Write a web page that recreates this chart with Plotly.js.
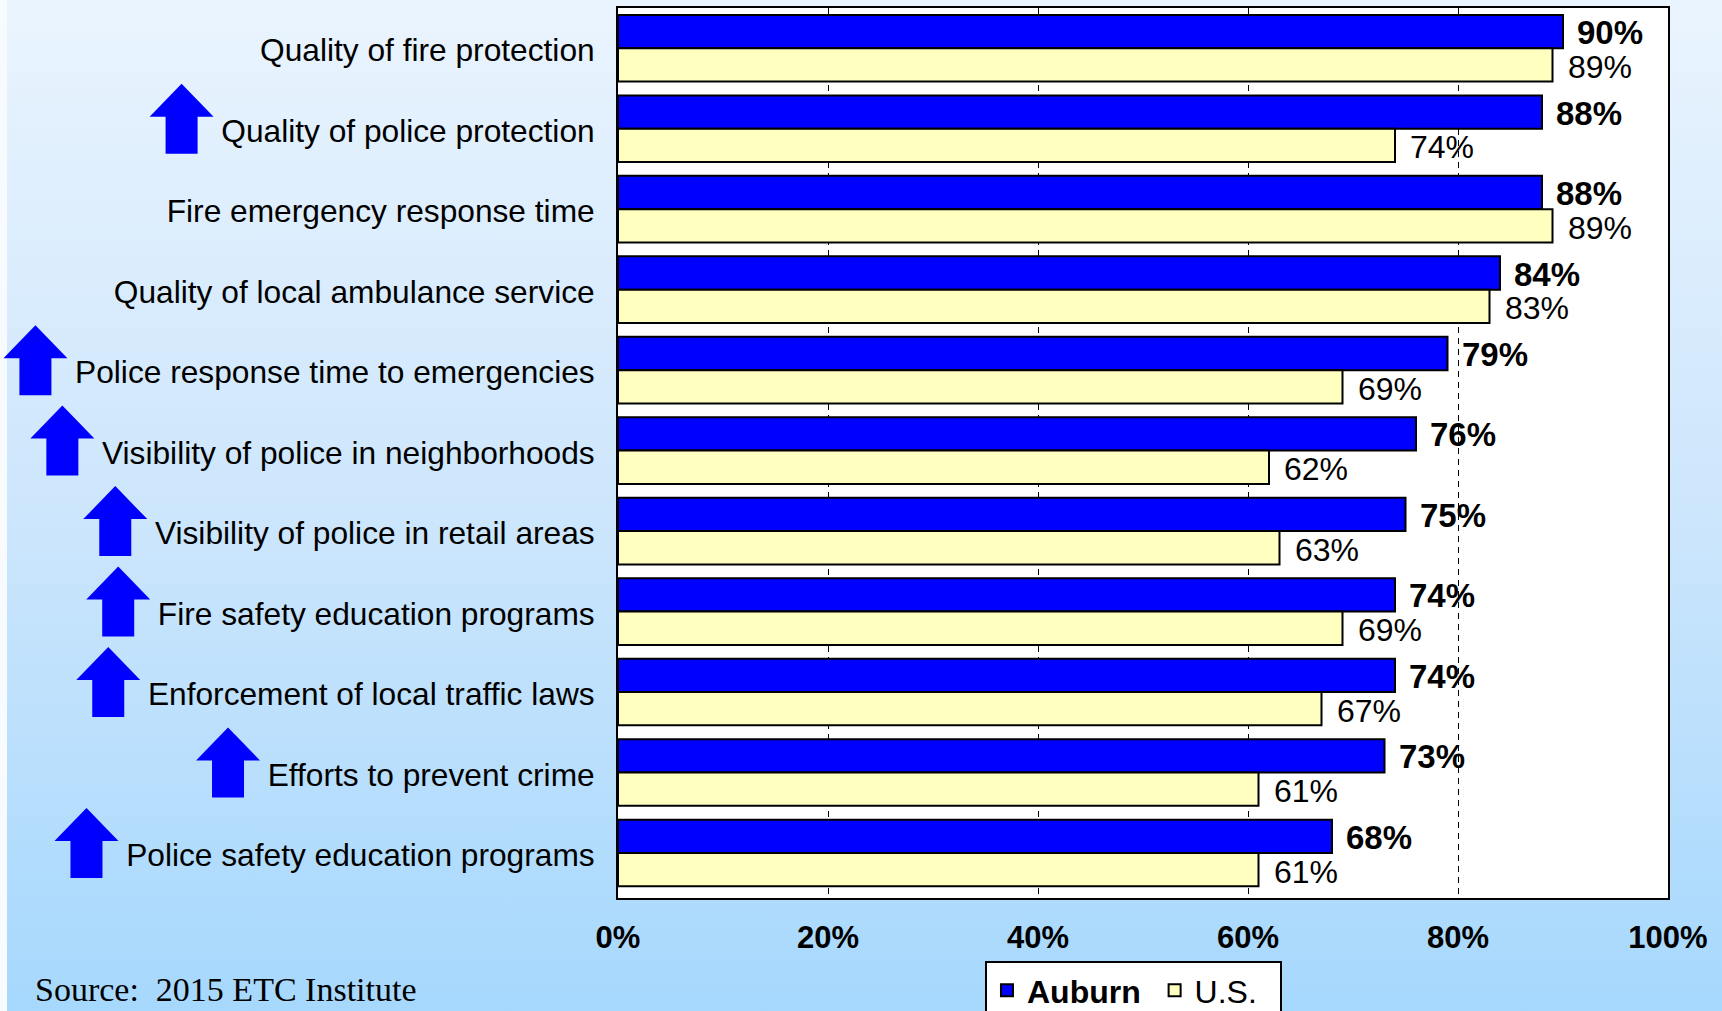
<!DOCTYPE html>
<html><head><meta charset="utf-8">
<script src="https://cdn.plot.ly/plotly-3.0.1.min.js"></script>
<style>
html,body{margin:0;padding:0;width:1722px;height:1011px;overflow:hidden;}
body{background:
  linear-gradient(to right,#f7fbfe 0px,#f7fbfe 7px,rgba(255,255,255,0) 7px),
  linear-gradient(to bottom,#eaf4fe 0%,#cde6fc 50%,#a6d8fd 100%);}
#chart{width:1722px;height:1011px;}
</style></head><body><div id="chart"></div>
<script>
// ---- data ----
const categories = [
  'Quality of fire protection',
  'Quality of police protection',
  'Fire emergency response time',
  'Quality of local ambulance service',
  'Police response time to emergencies',
  'Visibility of police in neighborhoods',
  'Visibility of police in retail areas',
  'Fire safety education programs',
  'Enforcement of local traffic laws',
  'Efforts to prevent crime',
  'Police safety education programs'
];
const auburn = [90, 88, 88, 84, 79, 76, 75, 74, 74, 73, 68];
const us     = [89, 74, 89, 83, 69, 62, 63, 69, 67, 61, 61];
const improved = [false, true, false, false, true, true, true, true, true, true, true];
const tickVals = [0, 20, 40, 60, 80, 100];
const tickText = ['0%', '20%', '40%', '60%', '80%', '100%'];
const seriesNames = ['Auburn', 'U.S.'];
const sourceNote = 'Source:\u00a0 2015 ETC Institute';

// ---- styling ----
const FONT = 'Liberation Sans, Arial, sans-serif';
const labelSize = 31.7;
const labelGap = 25;       // px between label right edge and plot left edge
const bargap = 0.172;
const halfOff = (1 - bargap) / 4;

const traces = [
  {type:'bar', orientation:'h', y:categories, x:auburn, name:'<b>' + seriesNames[0] + '</b>\u00a0',
   marker:{color:'#0000ff', line:{color:'#000', width:2}}, hoverinfo:'x+y'},
  {type:'bar', orientation:'h', y:categories, x:us, name:seriesNames[1] + '\u00a0\u00a0',
   marker:{color:'#ffffc0', line:{color:'#000', width:2}}, hoverinfo:'x+y'}
];

const annotations = [];
categories.forEach((c, i) => {
  annotations.push({x:auburn[i], y:i - halfOff, xref:'x', yref:'y', text:'<b>' + auburn[i] + '%</b>',
    showarrow:false, xanchor:'left', yanchor:'middle', xshift:12, yshift:-1,
    font:{family:FONT, size:33, color:'#000'}});
  annotations.push({x:us[i], y:i + halfOff, xref:'x', yref:'y', text:us[i] + '%',
    showarrow:false, xanchor:'left', yanchor:'middle', xshift:13, yshift:-2,
    font:{family:FONT, size:32, color:'#000'}});
});
annotations.push({xref:'paper', yref:'paper', x:-0.557, y:-0.08, xanchor:'left', yanchor:'top',
  text:sourceNote, showarrow:false, font:{family:'Liberation Serif, Times New Roman, serif', size:34, color:'#000'}});

// arrows next to improved items, placed from measured label widths
const cv = document.createElement('canvas').getContext('2d');
cv.font = labelSize + 'px "Liberation Sans"';
function arrowPath(R){
  const L = R - 64, c = R - 32, s0 = R - 48, s1 = R - 16;
  return `M${s0},-25 L${s1},-25 L${s1},12 L${R},12 L${c},45 L${L},12 L${s0},12 Z`;
}
const shapes = [];
categories.forEach((c, i) => {
  if (!improved[i]) return;
  const w = cv.measureText(c).width;
  const R = -(labelGap + w + 6);
  shapes.push({type:'path', xref:'paper', yref:'y', xsizemode:'pixel', ysizemode:'pixel',
    xanchor:0, yanchor:c, path:arrowPath(R), fillcolor:'#0000ff', line:{width:0}, layer:'above'});
});

const layout = {
  width:1722, height:1011,
  margin:{l:618, r:54, t:8, b:113, autoexpand:false},
  paper_bgcolor:'rgba(0,0,0,0)', plot_bgcolor:'#ffffff',
  barmode:'group', bargap:bargap, bargroupgap:0,
  showlegend:true,
  legend:{orientation:'h', x:0.3495, y:-0.0708, xanchor:'left', yanchor:'top',
    bgcolor:'#ffffff', bordercolor:'#000', borderwidth:2, traceorder:'normal',
    font:{family:FONT, size:32, color:'#000'}},
  xaxis:{range:[0,100], tickvals:tickVals, ticktext:tickText, showgrid:true,
    gridcolor:'#000', gridwidth:1, griddash:'6px,5px', zeroline:false,
    showline:true, mirror:true, linecolor:'#000', linewidth:2, ticks:'',
    ticklabelstandoff:11, tickfont:{family:FONT, size:31, color:'#000', weight:'bold'}, fixedrange:true},
  yaxis:{type:'category', autorange:'reversed', showgrid:false, zeroline:false,
    showline:true, mirror:true, linecolor:'#000', linewidth:2, ticks:'',
    ticklabelstandoff:15, ticklabelshift:-2, tickfont:{family:FONT, size:labelSize, color:'#000'}, fixedrange:true},
  annotations:annotations,
  shapes:shapes
};

Plotly.newPlot('chart', traces, layout, {displayModeBar:false, staticPlot:true});
</script></body></html>
